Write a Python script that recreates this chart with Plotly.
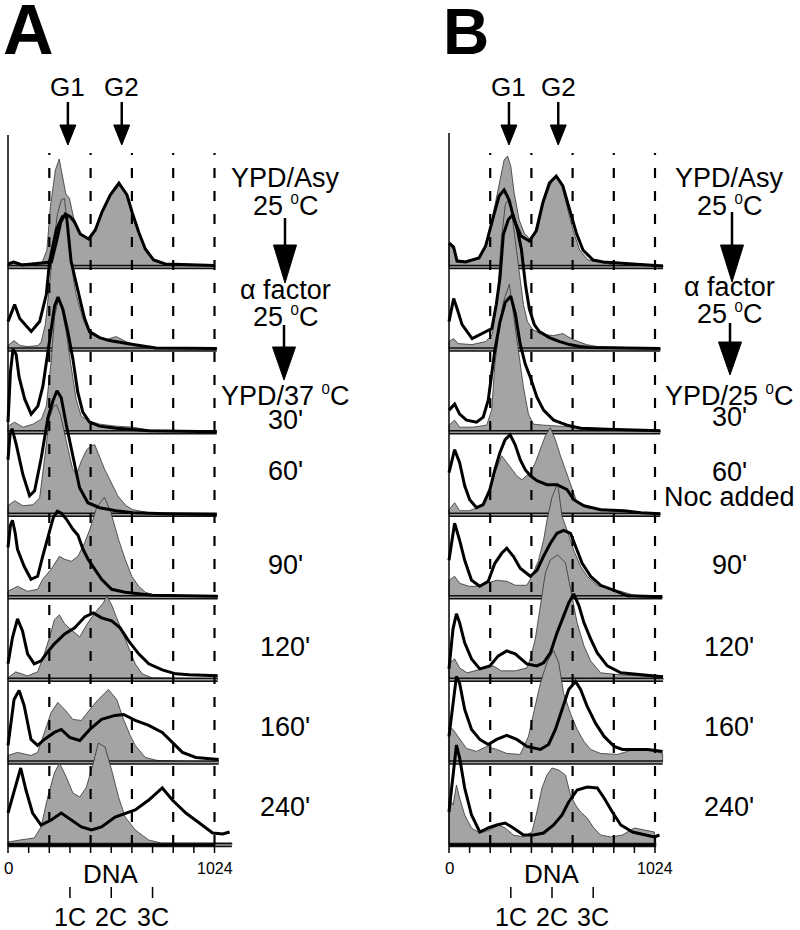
import plotly.graph_objects as go

# ---------------- DATA (DNA channel 0..1024, heights = relative cell counts) ----------------
PANELS = ["A", "B"]
DNA_TICKS = [i * 102.4 for i in range(11)]
DNA_DASHED = [204.8, 409.6, 614.4, 819.2, 1024]
PLOIDY_POS = [307.2, 512, 716.8]
PLOIDY_LABELS = ["1C", "2C", "3C"]
A_PHASE_X = [297, 564]
B_PHASE_X = [298, 543]
PHASE_LABELS = ["G1", "G2"]

SUP0 = "<sup><span style='font-size:15px'>0</span></sup>"
A_LABELS = ["YPD/Asy", "25 " + SUP0 + "C", "α factor", "25 " + SUP0 + "C", "YPD/37 " + SUP0 + "C",
            "30'", "60'", "90'", "120'", "160'", "240'"]
B_LABELS = ["YPD/Asy", "25 " + SUP0 + "C", "α factor", "25 " + SUP0 + "C", "YPD/25 " + SUP0 + "C",
            "30'", "60'", "Noc added", "90'", "120'", "160'", "240'"]

# Panel A -- gray (filled) histograms
A1_gray_x = [0, 28, 69, 168, 193, 210, 235, 254, 271, 287, 304, 325, 358, 400, 433, 466, 507, 557, 590, 615, 648, 681, 722, 780, 1026]
A1_gray_h = [3, 6, 3, 4, 17, 60, 97, 108, 90, 73, 69, 50, 33, 28, 37, 55, 72, 82, 72, 55, 35, 18, 8, 3, 1.5]
A2_gray_x = [0, 30, 60, 100, 150, 165, 185, 206, 225, 245, 265, 280, 295, 310, 325, 338, 371, 404, 437, 487, 536, 585, 654, 730, 1035]
A2_gray_h = [4, 9, 4, 3, 4, 8, 25, 65, 105, 135, 150, 151, 125, 95, 70, 55, 31, 16, 13, 10, 13, 8, 3, 1, 1]
A3_gray_x = [0, 33, 74, 124, 165, 190, 215, 231, 248, 264, 289, 313, 338, 363, 404, 454, 536, 619, 701, 1035]
A3_gray_h = [6, 10, 5, 8, 13, 26, 73, 116, 131, 126, 100, 66, 33, 16, 11, 8, 6, 5, 2, 0.5]
A4_gray_x = [0, 33, 74, 124, 157, 190, 206, 225, 240, 260, 287, 320, 340, 362, 390, 412, 430, 453, 480, 503, 544, 586, 619, 701, 784, 1035]
A4_gray_h = [9, 14, 9, 10, 17, 70, 97, 108, 110, 100, 76, 46, 40, 53, 65, 69, 70, 59, 45, 36, 19, 9, 5, 2, 1, 0.3]
A5_gray_x = [0, 47, 97, 147, 172, 214, 255, 281, 314, 347, 381, 406, 440, 478, 510, 548, 581, 614, 648, 681, 730, 1040]
A5_gray_h = [6, 11, 6, 8, 18, 28, 41, 38, 36, 41, 55, 68, 90, 100, 85, 58, 38, 21, 11, 5, 2, 1]
A6_gray_x = [0, 38, 97, 147, 180, 205, 230, 255, 281, 314, 356, 381, 406, 439, 473, 489, 514, 539, 564, 598, 631, 665, 715, 1040]
A6_gray_h = [2, 8, 4, 8, 26, 42, 60, 65, 56, 50, 43, 52, 60, 69, 77, 84, 75, 62, 49, 32, 16, 6, 2, 1]
A7_gray_x = [0, 47, 114, 147, 180, 214, 247, 281, 322, 364, 406, 448, 498, 539, 573, 606, 631, 681, 740, 1045]
A7_gray_h = [7, 10, 7, 10, 30, 50, 60, 53, 43, 42, 53, 63, 73, 63, 43, 27, 17, 5, 2, 0.5]
A8_gray_x = [0, 60, 130, 164, 197, 230, 255, 289, 322, 356, 389, 423, 448, 481, 514, 548, 581, 631, 698, 760, 1110]
A8_gray_h = [3, 5, 7, 18, 48, 72, 82, 68, 52, 48, 58, 82, 102, 98, 75, 48, 28, 15, 5, 2, 2]

# Panel A -- black (line) histograms
A1_line_x = [0, 28, 69, 168, 215, 240, 262, 284, 310, 330, 358, 400, 433, 466, 507, 550, 590, 615, 648, 681, 722, 780, 1026]
A1_line_h = [3, 5, 2, 4, 5, 25, 45, 53, 50, 45, 33, 28, 37, 55, 72, 84, 72, 55, 35, 18, 7, 3, 1.5]
A2_line_x = [0, 33, 58, 115, 157, 190, 206, 240, 270, 290, 313, 338, 363, 380, 404, 454, 503, 620, 734, 1035]
A2_line_h = [28, 45, 31, 18, 28, 55, 88, 120, 133, 134, 88, 68, 45, 31, 18, 12, 9, 5, 1.5, 1]
A3_line_x = [0, 12, 25, 40, 55, 83, 115, 148, 173, 206, 231, 248, 272, 297, 322, 346, 371, 404, 454, 536, 700, 1035]
A3_line_h = [10, 60, 83, 78, 55, 33, 18, 26, 46, 90, 126, 135, 123, 100, 73, 40, 20, 10, 6, 4, 1.5, 0.5]
A4_line_x = [0, 10, 20, 41, 74, 107, 132, 165, 198, 223, 243, 264, 289, 322, 355, 396, 454, 536, 619, 784, 1035]
A4_line_h = [55, 80, 86, 70, 40, 19, 24, 57, 97, 114, 124, 117, 90, 57, 27, 12, 7, 4, 2, 1, 0.3]
A5_line_x = [0, 12, 22, 35, 47, 80, 114, 147, 172, 205, 225, 245, 265, 290, 322, 347, 372, 397, 431, 464, 514, 581, 715, 1040]
A5_line_h = [50, 72, 77, 65, 48, 31, 18, 21, 41, 65, 80, 86, 84, 78, 68, 62, 48, 38, 28, 18, 8, 5, 2, 1]
A6_line_x = [0, 22, 47, 72, 97, 130, 164, 189, 230, 281, 331, 381, 423, 464, 514, 556, 598, 648, 698, 765, 832, 898, 1040]
A6_line_h = [16, 42, 61, 49, 26, 16, 19, 26, 36, 46, 52, 63, 67, 62, 59, 52, 39, 26, 16, 10, 6, 5, 4]
A7_line_x = [0, 30, 55, 80, 114, 147, 180, 230, 264, 306, 356, 406, 464, 531, 573, 631, 698, 765, 815, 865, 932, 1045]
A7_line_h = [17, 63, 72, 57, 23, 17, 23, 30, 33, 25, 22, 33, 43, 47, 48, 42, 37, 30, 20, 10, 5, 3]
A8_line_x = [0, 22, 63, 89, 122, 164, 214, 264, 314, 364, 414, 464, 531, 590, 631, 698, 765, 815, 882, 949, 1015, 1065, 1099]
A8_line_h = [32, 48, 77, 55, 32, 20, 25, 32, 25, 18, 15, 18, 28, 32, 35, 45, 57, 45, 32, 22, 12, 11, 13]

# Panel B -- gray (filled) histograms
B1_gray_x = [0, 23, 40, 82, 149, 190, 224, 249, 274, 291, 307, 324, 349, 374, 407, 441, 474, 508, 533, 558, 591, 616, 650, 691, 750, 817, 1064]
B1_gray_h = [24, 17, 7, 6, 9, 24, 57, 84, 107, 111, 101, 74, 47, 34, 27, 37, 67, 84, 90, 84, 57, 37, 17, 7, 5, 2, 1]
B2_gray_x = [0, 23, 45, 115, 182, 215, 240, 260, 280, 295, 310, 330, 350, 370, 390, 416, 466, 520, 566, 616, 683, 740, 1050]
B2_gray_h = [8, 11, 6, 5, 8, 15, 50, 110, 145, 150, 140, 108, 75, 45, 28, 20, 15, 14, 16, 10, 5, 3, 1]
B3_gray_x = [0, 28, 53, 120, 187, 212, 228, 245, 270, 300, 320, 345, 370, 395, 420, 470, 620, 800, 1050]
B3_gray_h = [7, 12, 5, 5, 7, 22, 68, 95, 130, 148, 120, 80, 45, 18, 8, 7, 5, 3, 1.5]
B4_gray_x = [0, 28, 53, 100, 170, 203, 228, 262, 287, 312, 337, 362, 387, 404, 429, 454, 479, 504, 529, 554, 579, 604, 637, 687, 787, 900, 1050]
B4_gray_h = [5, 12, 4, 4, 9, 25, 42, 59, 52, 45, 39, 35, 39, 42, 52, 65, 79, 87, 75, 59, 45, 29, 12, 7, 5, 3, 1]
B5_gray_x = [0, 28, 53, 100, 150, 187, 237, 287, 330, 387, 412, 445, 470, 487, 512, 540, 562, 587, 620, 654, 687, 737, 787, 854, 921, 1060]
B5_gray_h = [17, 21, 14, 11, 11, 14, 17, 16, 12, 12, 21, 37, 57, 77, 100, 114, 81, 67, 47, 31, 21, 12, 9, 6, 2, 0.5]
B6_gray_x = [0, 28, 53, 90, 130, 220, 260, 330, 387, 404, 429, 454, 479, 504, 540, 579, 604, 637, 671, 704, 754, 854, 954, 1064]
B6_gray_h = [16, 21, 12, 7, 9, 14, 9, 9, 12, 21, 41, 74, 107, 120, 125, 117, 91, 57, 34, 19, 7, 5, 4, 2]
B7_gray_x = [0, 20, 53, 87, 137, 187, 237, 287, 354, 395, 420, 454, 487, 520, 545, 570, 604, 637, 671, 704, 754, 837, 921, 987, 1062]
B7_gray_h = [36, 33, 23, 14, 11, 16, 13, 9, 8, 26, 49, 79, 100, 112, 100, 69, 49, 33, 21, 13, 9, 8, 13, 13, 9]
B8_gray_x = [0, 20, 37, 53, 78, 112, 153, 203, 245, 280, 320, 370, 412, 437, 462, 487, 512, 545, 579, 604, 629, 654, 687, 720, 754, 804, 862, 921, 971, 1021]
B8_gray_h = [47, 40, 60, 47, 30, 17, 12, 15, 20, 17, 10, 8, 13, 33, 57, 70, 77, 75, 70, 50, 40, 33, 27, 17, 10, 8, 10, 17, 15, 13]

# Panel B -- black (line) histograms
B1_line_x = [0, 23, 40, 82, 149, 182, 216, 249, 274, 299, 324, 358, 399, 433, 466, 499, 533, 566, 600, 633, 666, 716, 767, 1064]
B1_line_h = [24, 20, 6, 5, 9, 21, 47, 71, 77, 67, 47, 31, 26, 36, 64, 84, 91, 81, 57, 34, 17, 7, 5, 1]
B2_line_x = [0, 23, 40, 65, 115, 157, 190, 213, 235, 253, 270, 295, 318, 340, 360, 380, 399, 424, 449, 499, 550, 600, 650, 700, 1050]
B2_line_h = [28, 51, 41, 25, 11, 15, 18, 21, 45, 71, 115, 130, 135, 120, 100, 65, 41, 25, 18, 12, 8, 5, 3, 2, 1]
B3_line_x = [0, 28, 53, 87, 137, 170, 195, 212, 228, 253, 280, 307, 330, 354, 379, 404, 437, 470, 520, 587, 654, 787, 1050]
B3_line_h = [22, 28, 18, 12, 10, 15, 32, 58, 82, 110, 130, 136, 118, 88, 68, 55, 35, 22, 12, 7, 4, 3, 1.5]
B4_line_x = [0, 28, 53, 78, 103, 137, 170, 203, 228, 253, 279, 304, 329, 354, 379, 404, 437, 487, 537, 587, 620, 671, 754, 871, 954, 1050]
B4_line_h = [42, 65, 52, 29, 15, 7, 10, 25, 45, 62, 75, 80, 70, 55, 45, 39, 34, 30, 30, 25, 15, 9, 5, 4, 2, 1]
B5_line_x = [0, 28, 53, 78, 112, 153, 195, 228, 262, 287, 320, 354, 404, 437, 470, 504, 537, 570, 604, 629, 662, 704, 754, 821, 887, 1060]
B5_line_h = [37, 74, 57, 37, 17, 11, 16, 34, 44, 49, 41, 29, 21, 27, 41, 54, 64, 67, 64, 51, 34, 21, 12, 7, 1.5, 0.5]
B6_line_x = [0, 20, 37, 53, 78, 112, 153, 203, 245, 287, 329, 387, 437, 470, 504, 537, 570, 595, 620, 646, 671, 704, 737, 787, 854, 954, 1064]
B6_line_h = [11, 51, 66, 57, 37, 21, 11, 14, 24, 29, 26, 16, 14, 17, 27, 47, 64, 77, 86, 74, 57, 41, 27, 14, 7, 5, 3]
B7_line_x = [0, 20, 37, 53, 78, 112, 153, 195, 237, 287, 337, 387, 454, 495, 529, 562, 595, 629, 654, 687, 729, 771, 821, 862, 921, 987, 1062]
B7_line_h = [26, 59, 86, 79, 53, 33, 23, 18, 23, 27, 23, 16, 13, 18, 33, 53, 73, 81, 73, 56, 39, 26, 16, 13, 13, 13, 11]
B8_line_x = [0, 20, 37, 53, 78, 112, 153, 195, 237, 279, 320, 370, 420, 470, 520, 562, 595, 637, 687, 737, 771, 812, 854, 912, 971, 1021, 1046]
B8_line_h = [33, 67, 100, 87, 57, 30, 13, 17, 20, 22, 17, 10, 10, 12, 20, 30, 43, 55, 58, 57, 47, 33, 20, 13, 10, 8, 10]

A_BASE_END = [1026, 1035, 1035, 1035, 1040, 1040, 1045, 1110]
B_BASE_END = [1064, 1050, 1050, 1050, 1060, 1064, 1062, 1030]

DATA = {
    "A": ([(A1_gray_x, A1_gray_h), (A2_gray_x, A2_gray_h), (A3_gray_x, A3_gray_h), (A4_gray_x, A4_gray_h),
           (A5_gray_x, A5_gray_h), (A6_gray_x, A6_gray_h), (A7_gray_x, A7_gray_h), (A8_gray_x, A8_gray_h)],
          [(A1_line_x, A1_line_h), (A2_line_x, A2_line_h), (A3_line_x, A3_line_h), (A4_line_x, A4_line_h),
           (A5_line_x, A5_line_h), (A6_line_x, A6_line_h), (A7_line_x, A7_line_h), (A8_line_x, A8_line_h)],
          A_BASE_END),
    "B": ([(B1_gray_x, B1_gray_h), (B2_gray_x, B2_gray_h), (B3_gray_x, B3_gray_h), (B4_gray_x, B4_gray_h),
           (B5_gray_x, B5_gray_h), (B6_gray_x, B6_gray_h), (B7_gray_x, B7_gray_h), (B8_gray_x, B8_gray_h)],
          [(B1_line_x, B1_line_h), (B2_line_x, B2_line_h), (B3_line_x, B3_line_h), (B4_line_x, B4_line_h),
           (B5_line_x, B5_line_h), (B6_line_x, B6_line_h), (B7_line_x, B7_line_h), (B8_line_x, B8_line_h)],
          B_BASE_END),
}

# ---------------- LAYOUT GEOMETRY ----------------
W, H = 800, 930
ROW_PX = 82.57           # pixels per row
BASE0_PX = 845           # pixel y of bottom baseline
FONT = "Liberation Sans, Arial, Helvetica, sans-serif"
GRAY = "#a4a4a4"
X0 = {"A": 8.0, "B": 449.0}
SCALE = {"A": 0.20166, "B": 0.20117}
XREF = {"A": "x", "B": "x2"}


def yd(py):
    return (BASE0_PX - py) / ROW_PX


def xd(p, px):
    return (px - X0[p]) / SCALE[p]


def pp(px, py):
    return px / W, 1 - py / H


fig = go.Figure()

for p in PANELS:
    grays, lines, ends = DATA[p]
    for k in range(8):
        base = 7 - k
        gx, gh = grays[k]
        xs = [gx[0]] + list(gx) + [gx[-1]]
        ys = [base] + [base + h / ROW_PX for h in gh] + [base]
        fig.add_trace(go.Scatter(x=xs, y=ys, xaxis=XREF[p], yaxis="y", mode="lines",
                                 fill="toself", fillcolor=GRAY,
                                 line=dict(color="#333333", width=0.8),
                                 hoverinfo="skip", showlegend=False))
        fig.add_trace(go.Scatter(x=[0, ends[k]], y=[base, base], xaxis=XREF[p], yaxis="y",
                                 mode="lines", line=dict(color="#111111", width=4.5),
                                 hoverinfo="skip", showlegend=False))
        fig.add_trace(go.Scatter(x=[0, ends[k]], y=[base, base], xaxis=XREF[p], yaxis="y",
                                 mode="lines", line=dict(color="#9a9a9a", width=1.5),
                                 hoverinfo="skip", showlegend=False))
    for k in range(8):
        base = 7 - k
        lx, lh = lines[k]
        fig.add_trace(go.Scatter(x=list(lx), y=[base + h / ROW_PX for h in lh],
                                 xaxis=XREF[p], yaxis="y", mode="lines",
                                 line=dict(color="black", width=3),
                                 hoverinfo="skip", showlegend=False))

shapes = []
annotations = []


def seg(p, x0, y0, x1, y1, width=1.5, dash=None):
    d = dict(type="line", xref=XREF[p], yref="y", x0=x0, y0=y0, x1=x1, y1=y1,
             line=dict(color="black", width=width), layer="above")
    if dash:
        d["line"]["dash"] = dash
    shapes.append(d)


def tri_data(p, xc, ytop, ytip, half_px):
    hw = half_px / SCALE[p]
    path = f"M {xc - hw},{ytop} L {xc + hw},{ytop} L {xc},{ytip} Z"
    shapes.append(dict(type="path", xref=XREF[p], yref="y", path=path,
                       fillcolor="black", line=dict(color="black", width=1), layer="above"))


def big_arrow(px, py_top, py_head, py_tip, half=11.5):
    x, y0 = pp(px, py_top)
    _, y1 = pp(px, py_head + 2)
    shapes.append(dict(type="line", xref="paper", yref="paper", x0=x, y0=y0, x1=x, y1=y1,
                       line=dict(color="black", width=2.5)))
    xl, yh = pp(px - half, py_head)
    xr, _ = pp(px + half, py_head)
    _, yt = pp(px, py_tip)
    shapes.append(dict(type="path", xref="paper", yref="paper",
                       path=f"M {xl},{yh} L {xr},{yh} L {x},{yt} Z",
                       fillcolor="black", line=dict(color="black", width=1)))


def text(px, py, s, size, bold=False):
    x, y = pp(px, py)
    annotations.append(dict(xref="paper", yref="paper", x=x, y=y, text=f"<b>{s}</b>" if bold else s,
                            showarrow=False, xanchor="center", yanchor="middle",
                            font=dict(family=FONT, size=size, color="black")))


def dtext(p, xv, py, s, size):
    annotations.append(dict(xref=XREF[p], yref="y", x=xv, y=yd(py), text=s, showarrow=False,
                            xanchor="center", yanchor="middle",
                            font=dict(family=FONT, size=size, color="black")))


for p in PANELS:
    top_axis = 135 if p == "A" else 133
    seg(p, 0, 0, 0, yd(top_axis), width=1.5)
    seg(p, 0, 0, 1024, 0, width=2)
    for t in DNA_TICKS:
        seg(p, t, 0, t, yd(853), width=1.5)
    for t in DNA_DASHED:
        seg(p, t, 0, t, yd(153), width=2.2, dash="10px,13px")
    for t in PLOIDY_POS:
        seg(p, t, yd(887), t, yd(898), width=1.5)
    for t, lab in zip(PLOIDY_POS, PLOIDY_LABELS):
        dtext(p, t, 917, lab, 25)
    dtext(p, 512, 874, "DNA", 26)
    dtext(p, 0, 868, "0", 17)
    dtext(p, 1024, 868, "1024", 16)
    phase = A_PHASE_X if p == "A" else B_PHASE_X
    for xv, lab in zip(phase, PHASE_LABELS):
        dtext(p, xv, 87, lab, 26)
        seg(p, xv, yd(102), xv, yd(128), width=2.5)
        tri_data(p, xv, yd(125), yd(145), 8)

# panel letters
text(28, 30, "A", 70, bold=True)
text(466, 32, "B", 64, bold=True)

# right-hand labels
A_Y = [177.5, 205, 290, 317, 395, 420, 471, 565, 647, 727, 807]
B_Y = [177.5, 205, 287, 313, 395, 417, 472, 497, 565, 647, 727, 807]
for s, y in zip(A_LABELS, A_Y):
    text(285, y, s, 27)
for s, y in zip(B_LABELS, B_Y):
    text(729, y, s, 27)

big_arrow(285, 218, 245, 283)
big_arrow(284, 325, 347, 380)
big_arrow(732, 212, 245, 282)
big_arrow(730, 323, 342, 375)

fig.update_layout(
    width=W, height=H, margin=dict(l=0, r=0, t=0, b=0),
    paper_bgcolor="white", plot_bgcolor="rgba(0,0,0,0)",
    font=dict(family=FONT, color="black"),
    showlegend=False,
    xaxis=dict(domain=[0, 0.4], range=[xd("A", 0), xd("A", 320)], visible=False, fixedrange=True),
    xaxis2=dict(domain=[0.4, 1.0], range=[xd("B", 320), xd("B", 800)], anchor="y", visible=False,
                fixedrange=True),
    yaxis=dict(domain=[0, 1], range=[yd(H), yd(0)], visible=False, fixedrange=True),
    shapes=shapes, annotations=annotations,
)

fig.write_html("out.html", config={"displayModeBar": False},
               post_script="document.body.style.margin='0';document.body.style.overflow='hidden';")
